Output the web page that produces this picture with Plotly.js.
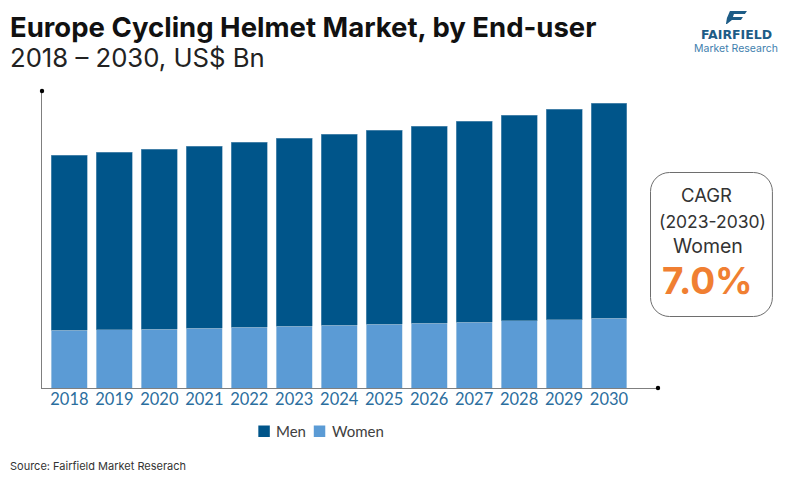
<!DOCTYPE html>
<html><head><meta charset="utf-8">
<script src="https://cdn.plot.ly/plotly-3.0.1.min.js"></script>
<style>html,body{margin:0;padding:0;background:#fff}</style></head>
<body><div id="chart" style="width:800px;height:477px"></div>
<script>
const years = ['2018','2019','2020','2021','2022','2023','2024','2025','2026','2027','2028','2029','2030'];
const women = [0.58,0.585,0.59,0.60,0.61,0.62,0.63,0.64,0.65,0.66,0.675,0.685,0.70];
const men   = [1.75,1.775,1.80,1.82,1.85,1.88,1.91,1.94,1.97,2.01,2.055,2.105,2.15];
const menColor='#00558A', womenColor='#5B9BD5';
const W=800,H=477,L=41.5,R=658,T=91,B=388;
const fx=x=>(x-L)/(R-L), fy=y=>(B-y)/(B-T);
const font='Inter, sans-serif', lato='Lato, sans-serif';
function txt(text,x,y,size,color,extra){return Object.assign({text,x:fx(x),y:fy(y),xref:'paper',yref:'paper',xanchor:'left',yanchor:'middle',showarrow:false,align:'left',borderpad:0,font:{family:font,size,color}},extra||{});}
function poly(pts){return 'M'+pts.map(p=>fx(p[0])+','+fy(p[1])).join(' L')+' Z';}
function roundRect(x0,y0,x1,y1,r){
  const n=8,pts=[];
  const arc=(cx,cy,a0)=>{for(let i=0;i<=n;i++){const a=a0+i/n*Math.PI/2;pts.push([cx+r*Math.cos(a),cy+r*Math.sin(a)]);}};
  arc(x1-r,y0+r,-Math.PI/2);arc(x1-r,y1-r,0);arc(x0+r,y1-r,Math.PI/2);arc(x0+r,y0+r,Math.PI);
  return poly(pts);
}
const shp=(path,fill,line)=>({type:'path',xref:'paper',yref:'paper',path,fillcolor:fill,line:line||{width:0},layer:'above'});
const dot=(x,y)=>({type:'circle',xref:'paper',yref:'paper',x0:fx(x-2.2),x1:fx(x+2.2),y0:fy(y+2.2),y1:fy(y-2.2),fillcolor:'#000',line:{width:0}});
const swatch=(x,y,s,c)=>({type:'rect',xref:'paper',yref:'paper',x0:fx(x),x1:fx(x+s),y0:fy(y+s),y1:fy(y),fillcolor:c,line:{width:0}});
const data=[
 {type:'bar',name:'Women',x:years,y:women,marker:{color:womenColor,line:{color:'#BFD7EA',width:0.6}}},
 {type:'bar',name:'Men',x:years,y:men,marker:{color:menColor,line:{color:'#6F9DBD',width:0.6}}}
];
const layout={
 width:W,height:H,margin:{l:L,r:W-R,t:T,b:H-B,pad:0},paper_bgcolor:'#fff',plot_bgcolor:'#fff',
 barmode:'stack',bargap:0.2,
 xaxis:{type:'category',range:[-0.61,13.09],showgrid:false,zeroline:false,showline:true,linecolor:'#7f7f7f',linewidth:1.2,ticks:'',tickfont:{family:lato,size:16.5,color:'#2B6E9E'},automargin:false,ticklabelstandoff:-4},
 yaxis:{range:[0,2.97],showgrid:false,zeroline:false,showline:true,linecolor:'#7f7f7f',linewidth:1.2,ticks:'',showticklabels:false,automargin:false},
 showlegend:false,
 shapes:[
  dot(41.5,91),dot(658,388),
  shp(roundRect(650.5,172.5,772.5,316.5,19),'rgba(255,255,255,0)',{color:'#6e6e6e',width:1}),
  shp(poly([[730,11],[747,11],[745,14],[734,14],[733,17],[743,17],[741,20],[732,20],[727,24],[726,24],[727,18]]),'#1D5C86'),
  swatch(258,425.5,11.5,menColor),swatch(313.5,425.5,11.5,womenColor),
 ],
 annotations:[
  txt('<b>Europe Cycling Helmet Market, by End-user</b>',8.5,27,27.5,'#111'),
  txt('2018 – 2030, US$ Bn',8.5,58,25.7,'#222'),
  txt('<b>FAIRFIELD</b>',736.5,34,12.5,'#1D5C86',{xanchor:'center',font:{family:'DejaVu Sans, sans-serif',size:12.5,color:'#1D5C86'}}),
  txt('Market Research',736.5,48.5,10.5,'#3F7FAE',{xanchor:'center'}),
  txt('CAGR',707,195,18.5,'#333',{xanchor:'center'}),
  txt('(2023-2030)',713,221,17.5,'#333',{xanchor:'center'}),
  txt('Women',708,246,19.5,'#333',{xanchor:'center'}),
  txt('<b>7.0%</b>',707.5,280,37,'#F07F32',{xanchor:'center'}),
  txt('Men',275,430.5,15,'#404040',{font:{family:lato,size:15,color:'#404040'}}),
  txt('Women',331,430.5,15,'#404040',{font:{family:lato,size:15,color:'#404040'}}),
  txt('Source: Fairfield Market Reserach',8.5,466,11,'#333')
 ]
};
Plotly.newPlot('chart',data,layout,{displayModeBar:false,staticPlot:true});
</script></body></html>
